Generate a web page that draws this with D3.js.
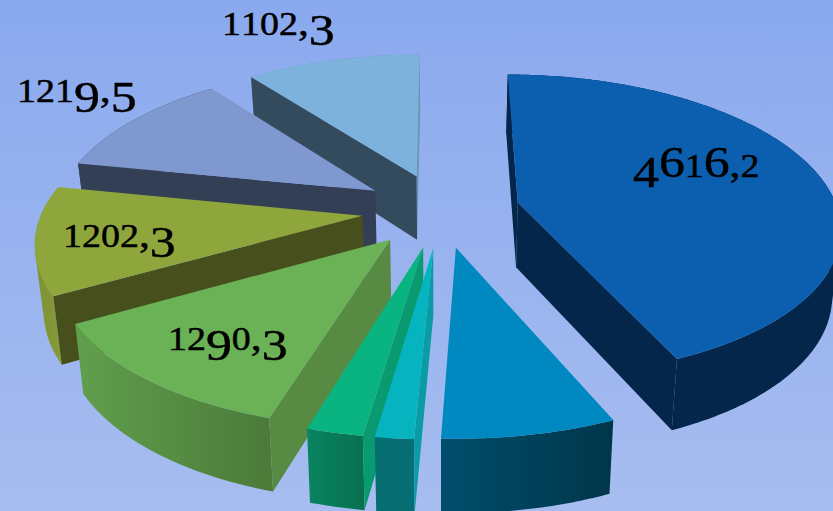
<!DOCTYPE html>
<html>
<head>
<meta charset="utf-8">
<script src="https://cdn.jsdelivr.net/npm/d3@7/dist/d3.min.js"></script>
<style>
html, body { margin: 0; padding: 0; overflow: hidden; }
svg { display: block; }
</style>
</head>
<body>
<script>
// slices clockwise from 12 o'clock, the three small ones have no printed value
const values = [4616.2, 770, 170, 250, 1290.3, 1202.3, 1219.5, 1102.3];
const labels = ["4616,2", null, null, null, "1290,3", "1202,3", "1219,5", "1102,3"];

const topColors = ["#0b5fae", "#0089c0", "#06b4bf", "#0ab481", "#6bb155", "#8fa63c", "#7f98d0", "#7db2dd"];
const startFace = ["#03264a", "#004e6c", "#0a9ca5", "#0a9a70", "#578b43", "#474f1c", "#333f55", "#344a5d"];
const endFace = ["#03264a", "#004e6c", "#066f74", "#077552", "#609e4c", "#7f9234", "#333f55", "#6a95b5"];
const wallLeft = ["#03264a", "#004e6c", "#076e72", "#0a8460", "#619f4d", "#7f9234", "#333f55", "#6a95b5"];
const wallRight = ["#03264a", "#00364a", "#066f74", "#07704f", "#4b7a39", "#899c38", "#333f55", "#6a95b5"];
const labelX = [633, 0, 0, 0, 168, 63, 17, 222];
const labelY = [177, 0, 0, 0, 350, 247, 102, 35];

const width = 833, height = 511;
const cx = 441, cy = 210;      // pie centre on screen
const radius = 320, explode = 79;
const persp = 0.000472, tilt = 0.467;
const depth = 65;

const svg = d3.select("body").append("svg").attr("width", width).attr("height", height);
const defs = svg.append("defs");

const bg = defs.append("linearGradient").attr("id", "bg")
  .attr("x1", 0).attr("y1", 0).attr("x2", 0).attr("y2", 1);
bg.append("stop").attr("offset", 0).attr("stop-color", "#8aa9ee");
bg.append("stop").attr("offset", 1).attr("stop-color", "#a7bdf0");
svg.append("rect").attr("width", width).attr("height", height).attr("fill", "url(#bg)");

// ground plane -> screen, y of the plane points at the viewer
function project(x, y) {
  const s = 1 / (1 - persp * y);
  return [cx + x * s, cy + tilt * y * s];
}
function below(x, y) {
  const p = project(x, y);
  const s = 1 / (1 - persp * y);
  return [cx + (p[0] - cx) * 0.978, p[1] + depth * Math.pow(s, 0.65)];
}

const line = d3.line();
const poly = function(pts) { return line(pts) + "Z"; };

const arcs = d3.pie().sort(null).value(function(d) { return d; })(values);
arcs.forEach(function(a) {
  const mid = (a.startAngle + a.endAngle) / 2;
  a.ox = Math.sin(mid) * explode;
  a.oy = -Math.cos(mid) * explode;
});

// back to front
const order = arcs.slice().sort(function(a, b) { return d3.ascending(a.oy, b.oy); });

order.forEach(function(a) {
  const i = a.index;
  const g = svg.append("g");
  const n = Math.max(4, Math.ceil((a.endAngle - a.startAngle) / 0.012));
  const angles = d3.range(n + 1).map(function(k) {
    return a.startAngle + (a.endAngle - a.startAngle) * k / n;
  });
  const rim = angles.map(function(t) {
    return [a.ox + Math.sin(t) * radius, a.oy - Math.cos(t) * radius];
  });
  const first = rim[0], last = rim[n];

  // outer wall, one quad per rim step wound the same way so the sweep has no holes
  let wallPath = "";
  const wallPts = [];
  d3.range(n).forEach(function(k) {
    const p = rim[k], q = rim[k + 1];
    const quad = [project(p[0], p[1]), project(q[0], q[1]), below(q[0], q[1]), below(p[0], p[1])];
    if (d3.polygonArea(quad) < 0) quad.reverse();
    wallPath += poly(quad);
    wallPts.push.apply(wallPts, quad);
  });
  const xr = d3.extent(wallPts, function(p) { return p[0]; });
  const grad = defs.append("linearGradient").attr("id", "wall" + i)
    .attr("gradientUnits", "userSpaceOnUse")
    .attr("x1", xr[0]).attr("y1", 0).attr("x2", xr[1]).attr("y2", 0);
  grad.append("stop").attr("offset", 0).attr("stop-color", wallLeft[i]);
  grad.append("stop").attr("offset", 1).attr("stop-color", wallRight[i]);
  g.append("path").attr("fill", "url(#wall" + i + ")").attr("d", wallPath);

  // cut faces, only the ones turned to the viewer
  const endQuad = [project(a.ox, a.oy), project(last[0], last[1]), below(last[0], last[1]), below(a.ox, a.oy)];
  const startQuad = [project(a.ox, a.oy), project(first[0], first[1]), below(first[0], first[1]), below(a.ox, a.oy)];
  if (d3.polygonArea(endQuad) < 0)
    g.append("path").attr("fill", endFace[i]).attr("d", poly(endQuad));
  if (d3.polygonArea(startQuad) > 0)
    g.append("path").attr("fill", startFace[i]).attr("d", poly(startQuad));

  // top
  const top = [project(a.ox, a.oy)].concat(rim.map(function(p) { return project(p[0], p[1]); }));
  g.append("path").attr("fill", topColors[i]).attr("d", poly(top));
});

// old style figures are not in the installed fonts, so the digits get sized one by one
const smallSize = 33, bigSize = 45, commaSize = 38, drop = 10;
labels.forEach(function(label, i) {
  if (!label) return;
  const text = svg.append("text")
    .attr("transform", "translate(" + labelX[i] + "," + labelY[i] + ") scale(1.15,1)")
    .attr("font-family", "'Liberation Serif', serif").attr("fill", "#000")
    .attr("stroke", "#000").attr("stroke-width", 0.5);
  let shift = 0;
  label.split("").forEach(function(ch) {
    const low = "3459".includes(ch), tall = low || ch === "6";
    const want = low ? drop : 0;
    text.append("tspan").attr("font-size", ch === "," ? commaSize : tall ? bigSize : smallSize)
      .attr("dy", want - shift).text(ch);
    shift = want;
  });
});
</script>
</body>
</html>
